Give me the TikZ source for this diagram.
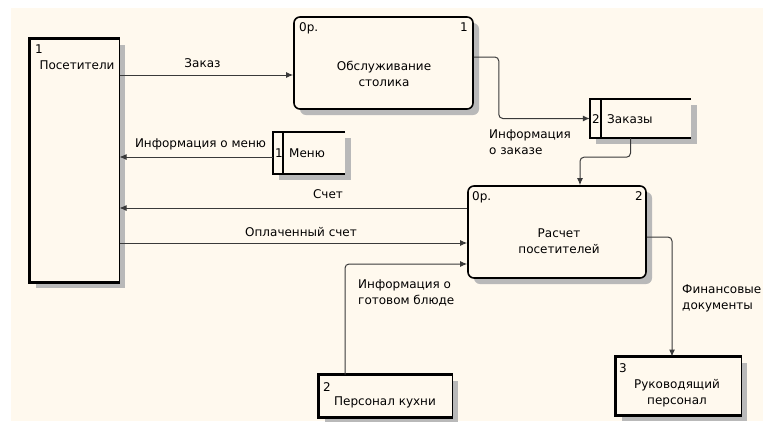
\documentclass[tikz,border=0pt]{standalone}
\usepackage{fontspec}
\setmainfont{DejaVu Sans}
\usetikzlibrary{arrows.meta,shadows,positioning}
\definecolor{bg-cream}{HTML}{FFF9EE}
\definecolor{flow-gray}{HTML}{3A3A3A}
\tikzset{
    dfd-shadow/.style = {general shadow={fill=gray!55, shadow xshift=6pt, shadow yshift=-6pt}},
    process-box/.style = {draw=black, fill=bg-cream, line width=1.6pt, rectangle, rounded corners=6pt, dfd-shadow},
    entity-box/.style = {draw=black, fill=bg-cream, line width=1pt, rectangle, dfd-shadow},
    entity-edge/.style = {draw=black, line width=3.2pt},
    store-box/.style = {fill=bg-cream, rectangle, dfd-shadow},
    store-edge/.style = {draw=black, line width=1.6pt},
    box-text/.style = {align=center, inner sep=0pt},
    box-number/.style = {inner sep=0pt, anchor=base west},
    flow/.style = {draw=flow-gray, line width=1pt, -{Latex[length=7pt,width=6pt]}},
    flow-label/.style = {align=left, inner sep=0pt, anchor=north west},
}

\begin{document}
\begin{tikzpicture}[x=1pt, y=-1pt, font=\fontsize{12}{16}\selectfont]
\useasboundingbox (0,0) rectangle (763,421);
\fill[bg-cream] (11,8) rectangle (763,421);

\node[entity-box, minimum width=89pt, minimum height=243pt] (visitors) at (74.5,160.5) {};
\draw[entity-edge] (visitors.north east) -- (visitors.north west) -- (visitors.south west) -- (visitors.south east);
\node[box-number] (visitors-num) at (35,53) {1};
\node[box-text, anchor=base] (visitors-name) at (77,69) {Посетители};

\node[process-box, minimum width=179pt, minimum height=92pt] (serve-table) at (383.5,63) {};
\node[box-number] (serve-table-op) at (299,31) {0р.};
\node[box-number, anchor=base east] (serve-table-num) at (468,31) {1};
\node[box-text, anchor=north] (serve-table-name) at (384,61) {Обслуживание\\столика};

\node[store-box, minimum width=101pt, minimum height=39pt] (orders) at (640.5,118.5) {};
\draw[store-edge] (orders.north east) -- (orders.north west) -- (orders.south west) -- (orders.south east);
\draw[store-edge] ([xshift=11pt]orders.north west) -- ([xshift=11pt]orders.south west);
\node[box-number] (orders-num) at (592,123) {2};
\node[box-number] (orders-name) at (607,123) {Заказы};

\node[store-box, minimum width=72pt, minimum height=42pt] (menu) at (309,153) {};
\draw[store-edge] (menu.north east) -- (menu.north west) -- (menu.south west) -- (menu.south east);
\draw[store-edge] ([xshift=10pt]menu.north west) -- ([xshift=10pt]menu.south west);
\node[box-number] (menu-num) at (275,157) {1};
\node[box-number] (menu-name) at (289,157) {Меню};

\node[process-box, minimum width=178pt, minimum height=92pt] (billing) at (557,232) {};
\node[box-number] (billing-op) at (472,200) {0р.};
\node[box-number, anchor=base east] (billing-num) at (643,200) {2};
\node[box-text, anchor=north] (billing-name) at (559,229) {Расчет\\посетителей};

\node[entity-box, minimum width=133pt, minimum height=42pt] (kitchen) at (385.5,396) {};
\draw[entity-edge] (kitchen.north east) -- (kitchen.north west) -- (kitchen.south west) -- (kitchen.south east);
\node[box-number] (kitchen-num) at (323,391) {2};
\node[box-text, anchor=base] (kitchen-name) at (385,405) {Персонал кухни};

\node[entity-box, minimum width=125pt, minimum height=58pt] (managers) at (678.5,386) {};
\draw[entity-edge] (managers.north east) -- (managers.north west) -- (managers.south west) -- (managers.south east);
\node[box-number] (managers-num) at (619,372) {3};
\node[box-text, anchor=north] (managers-name) at (677,379) {Руководящий\\персонал};

\draw[flow] ([yshift=-12pt]visitors.east |- serve-table.west) -- ([yshift=-12pt]serve-table.west);
\draw[flow, rounded corners=4pt] ([yshift=6pt]serve-table.east) -| ([xshift=25pt]serve-table.east |- orders.west) -- (orders.west);
\draw[flow, rounded corners=4pt] ([xshift=-10pt]orders.south) -- ++(0,19) -| ([xshift=23pt]billing.north);
\draw[flow] ([yshift=-4pt]menu.west) -- ([yshift=-4pt]visitors.east |- menu.west);
\draw[flow] ([yshift=24pt]billing.west) -- ([yshift=24pt]visitors.east |- billing.west);
\draw[flow] ([yshift=-11pt]visitors.east |- billing.west) -- ([yshift=-11pt]billing.west);
\draw[flow, rounded corners=4pt] ([xshift=-40.5pt]kitchen.north) |- ([yshift=-32pt]billing.west);
\draw[flow, rounded corners=4pt] ([yshift=-5pt]billing.east) -| ([xshift=-6.5pt]managers.north);

\node[anchor=base] (order-label) at (202.5,67) {Заказ};
\node[anchor=base] (menu-info-label) at (200.5,147) {Информация о меню};
\node[anchor=base] (bill-label) at (328,198) {Счет};
\node[anchor=base] (paid-label) at (301,236) {Оплаченный счет};
\node[flow-label] (order-info-label) at (489,130) {Информация\\о заказе};
\node[flow-label] (dish-info-label) at (358,280) {Информация о\\готовом блюде};
\node[flow-label] (fin-docs-label) at (682,285) {Финансовые\\документы};
\end{tikzpicture}
\end{document}
